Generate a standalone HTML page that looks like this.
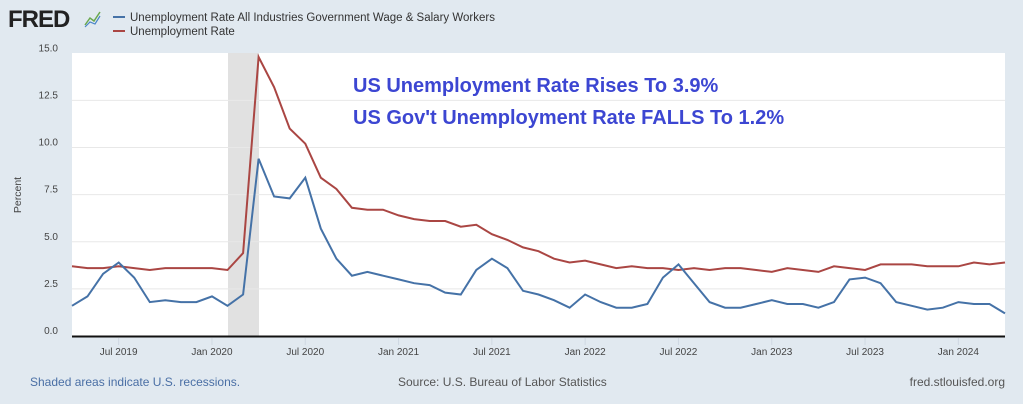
<!DOCTYPE html>
<html><head><meta charset="utf-8"><style>
html,body{margin:0;padding:0;background:#e1e9f0;}
svg{display:block;font-family:"Liberation Sans",sans-serif;}
</style></head><body>
<svg id="s" width="1023" height="404" xmlns="http://www.w3.org/2000/svg">
<rect width="1023" height="404" fill="#e1e9f0"/>
<text x="8" y="27" font-size="24" font-weight="bold" fill="#222" letter-spacing="-1">FRED</text>
<polyline points="85,25 90,18 94,21 100,12" fill="none" stroke="#6aa84f" stroke-width="1.5"/>
<polyline points="85,27 90,22 95,24 100,16" fill="none" stroke="#4a86c8" stroke-width="1.2"/>
<line x1="113" y1="17" x2="125" y2="17" stroke="#4572a7" stroke-width="2"/>
<text x="130" y="21" font-size="11.5" fill="#333">Unemployment Rate All Industries Government Wage &amp; Salary Workers</text>
<line x1="113" y1="31" x2="125" y2="31" stroke="#aa4643" stroke-width="2"/>
<text x="130" y="35" font-size="11.5" fill="#333">Unemployment Rate</text>
<rect x="72" y="53" width="933" height="283" fill="#fff"/>
<rect x="228" y="53" width="31" height="283" fill="#e1e1e1"/>
<g id="grid" stroke="#e8e8e8" stroke-width="1"></g>
<g id="tk" stroke="#cfd8e2" stroke-width="1"></g>
<g id="yl" font-size="10" fill="#444" text-anchor="end"></g>
<g id="xl" font-size="10" fill="#444" text-anchor="middle"></g>
<text x="21" y="195" font-size="10.5" fill="#444" text-anchor="middle" transform="rotate(-90 21 195)">Percent</text>
<polyline id="red" fill="none" stroke="#aa4643" stroke-width="2"/>
<polyline id="blue" fill="none" stroke="#4572a7" stroke-width="2"/>
<line x1="72" y1="336.5" x2="1005" y2="336.5" stroke="#111" stroke-width="2"/>
<text x="353" y="92" font-size="20" font-weight="bold" fill="#3c46d2">US Unemployment Rate Rises To 3.9%</text>
<text x="353" y="124" font-size="20" font-weight="bold" fill="#3c46d2">US Gov't Unemployment Rate FALLS To 1.2%</text>
<text x="30" y="386" font-size="12" fill="#4a6fa5">Shaded areas indicate U.S. recessions.</text>
<text x="398" y="386" font-size="12" fill="#555">Source: U.S. Bureau of Labor Statistics</text>
<text x="1005" y="386" font-size="12" fill="#555" text-anchor="end">fred.stlouisfed.org</text>
</svg>
<script>
var NS="http://www.w3.org/2000/svg";
function X(i){return 72+i*15.55;}
function Y(v){return 336-v*18.85;}
var red=[3.7,3.6,3.6,3.7,3.6,3.5,3.6,3.6,3.6,3.6,3.5,4.4,14.8,13.2,11.0,10.2,8.4,7.8,6.8,6.7,6.7,6.4,6.2,6.1,6.1,5.8,5.9,5.4,5.1,4.7,4.5,4.1,3.9,4.0,3.8,3.6,3.7,3.6,3.6,3.5,3.6,3.5,3.6,3.6,3.5,3.4,3.6,3.5,3.4,3.7,3.6,3.5,3.8,3.8,3.8,3.7,3.7,3.7,3.9,3.8,3.9];
var blue=[1.6,2.1,3.3,3.9,3.1,1.8,1.9,1.8,1.8,2.1,1.6,2.2,9.4,7.4,7.3,8.4,5.7,4.1,3.2,3.4,3.2,3.0,2.8,2.7,2.3,2.2,3.5,4.1,3.6,2.4,2.2,1.9,1.5,2.2,1.8,1.5,1.5,1.7,3.1,3.8,2.8,1.8,1.5,1.5,1.7,1.9,1.7,1.7,1.5,1.8,3.0,3.1,2.8,1.8,1.6,1.4,1.5,1.8,1.7,1.7,1.2];
function pts(a){return a.map(function(v,i){return X(i).toFixed(1)+","+Y(v).toFixed(1)}).join(" ");}
document.getElementById("red").setAttribute("points",pts(red));
document.getElementById("blue").setAttribute("points",pts(blue));
var g=document.getElementById("grid"),tk=document.getElementById("tk"),yl=document.getElementById("yl"),xl=document.getElementById("xl");
[2.5,5,7.5,10,12.5].forEach(function(v){var l=document.createElementNS(NS,"line");l.setAttribute("x1",72);l.setAttribute("x2",1005);l.setAttribute("y1",Y(v));l.setAttribute("y2",Y(v));g.appendChild(l);});
[0,2.5,5,7.5,10,12.5,15].forEach(function(v){var t=document.createElementNS(NS,"text");t.setAttribute("x",58);t.setAttribute("y",Y(v)-2);t.textContent=v.toFixed(1);yl.appendChild(t);});
var labs=["Jul 2019","Jan 2020","Jul 2020","Jan 2021","Jul 2021","Jan 2022","Jul 2022","Jan 2023","Jul 2023","Jan 2024"];
labs.forEach(function(s,k){var i=3+6*k;var l=document.createElementNS(NS,"line");l.setAttribute("x1",X(i));l.setAttribute("x2",X(i));l.setAttribute("y1",338);l.setAttribute("y2",345);tk.appendChild(l);var t=document.createElementNS(NS,"text");t.setAttribute("x",X(i));t.setAttribute("y",355);t.textContent=s;xl.appendChild(t);});
</script>
</body></html>
